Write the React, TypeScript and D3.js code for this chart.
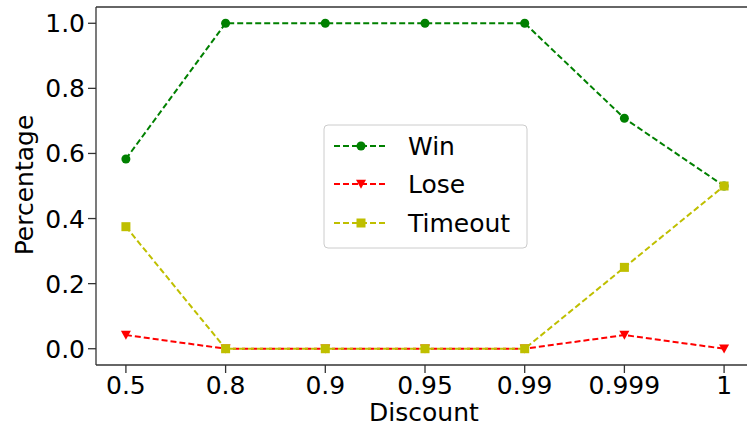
import React from 'react';
import * as d3 from 'd3';

const discounts = ["0.5", "0.8", "0.9", "0.95", "0.99", "0.999", "1"];
const winValues = [0.583, 1, 1, 1, 1, 0.708, 0.5];
const loseValues = [0.042, 0, 0, 0, 0, 0.042, 0];
const timeoutValues = [0.375, 0, 0, 0, 0, 0.25, 0.5];
const yTicks = [0, 0.2, 0.4, 0.6, 0.8, 1.0];

const series = [
	{ name: "Win", values: winValues, color: "#008000", marker: "circle" },
	{ name: "Lose", values: loseValues, color: "#ff0000", marker: "triangle" },
	{ name: "Timeout", values: timeoutValues, color: "#bfbf00", marker: "square" }
];

const width = 747;
const height = 427;
const margin = { left: 96, top: 7, bottom: 365, right: 754 };
const font = "DejaVu Sans, sans-serif";

const x = d3.scaleLinear().domain([-0.3, discounts.length - 0.7]).range([margin.left, margin.right]);
const y = d3.scaleLinear().domain([-0.05, 1.05]).range([margin.bottom, margin.top]);

const renderMarker = (marker: string, cx: number, cy: number, color: string, key: string) => {
	if (marker === "circle") {
		return <circle key={key} cx={cx} cy={cy} r={4.5} fill={color} />;
	}
	if (marker === "triangle") {
		const s = 5;
		return <path key={key} d={`M ${cx - s} ${cy - s * 0.85} L ${cx + s} ${cy - s * 0.85} L ${cx} ${cy + s * 0.95} Z`} fill={color} />;
	}
	return <rect key={key} x={cx - 4.5} y={cy - 4.5} width={9} height={9} fill={color} />;
};

const App = () => {
	const line = d3.line<number>()
		.x((_, i) => x(i))
		.y((d) => y(d));

	const legendX = 324;
	const legendY = 125;
	const legendRows = [146, 184, 223];

	return (
		<svg width={width} height={height} style={{ position: "absolute", left: 0, top: 0 }}>
			<rect width={width} height={height} fill="#fff" />
			{series.map((s) => (
				<g key={s.name}>
					<path d={line(s.values) || ""} fill="none" stroke={s.color} strokeWidth={2} strokeDasharray="6,3" />
					{s.values.map((v, i) => renderMarker(s.marker, x(i), y(v), s.color, `${s.name}_${i}`))}
				</g>
			))}
			<g className="spines" stroke="#333" strokeWidth={1.3} fill="none">
				<line x1={margin.left} y1={margin.top} x2={margin.left} y2={margin.bottom} />
				<line x1={margin.left} y1={margin.bottom} x2={width} y2={margin.bottom} />
				<line x1={margin.left} y1={margin.top} x2={width} y2={margin.top} />
			</g>
			<g className="y-axis" fontFamily={font} fontSize={25}>
				{yTicks.map((t) => (
					<g key={t}>
						<line x1={margin.left - 8} x2={margin.left} y1={y(t)} y2={y(t)} stroke="#333" strokeWidth={1.3} />
						<text x={margin.left - 11} y={y(t)} dy="0.36em" textAnchor="end" fill="#000">{t.toFixed(1)}</text>
					</g>
				))}
				<text transform={`translate(33,185)rotate(-90)`} textAnchor="middle" fill="#000">Percentage</text>
			</g>
			<g className="x-axis" fontFamily={font} fontSize={25}>
				{discounts.map((d, i) => (
					<g key={d}>
						<line x1={x(i)} x2={x(i)} y1={margin.bottom} y2={margin.bottom + 8} stroke="#333" strokeWidth={1.3} />
						<text x={x(i)} y={394} textAnchor="middle" fill="#000">{d}</text>
					</g>
				))}
				<text x={424} y={421} textAnchor="middle" fill="#000">Discount</text>
			</g>
			<g className="legend" fontFamily={font} fontSize={25}>
				<rect x={legendX} y={legendY} width={203} height={123} rx={4} fill="#fff" fillOpacity={0.8} stroke="#ccc" strokeWidth={1} />
				{series.map((s, i) => (
					<g key={s.name}>
						<line x1={334} x2={388} y1={legendRows[i]} y2={legendRows[i]} stroke={s.color} strokeWidth={2} strokeDasharray="6,3" />
						{renderMarker(s.marker, 361, legendRows[i], s.color, `legend_${s.name}`)}
						<text x={408} y={legendRows[i]} dy="0.36em" fill="#000">{s.name}</text>
					</g>
				))}
			</g>
		</svg>
	);
};

export default App;
